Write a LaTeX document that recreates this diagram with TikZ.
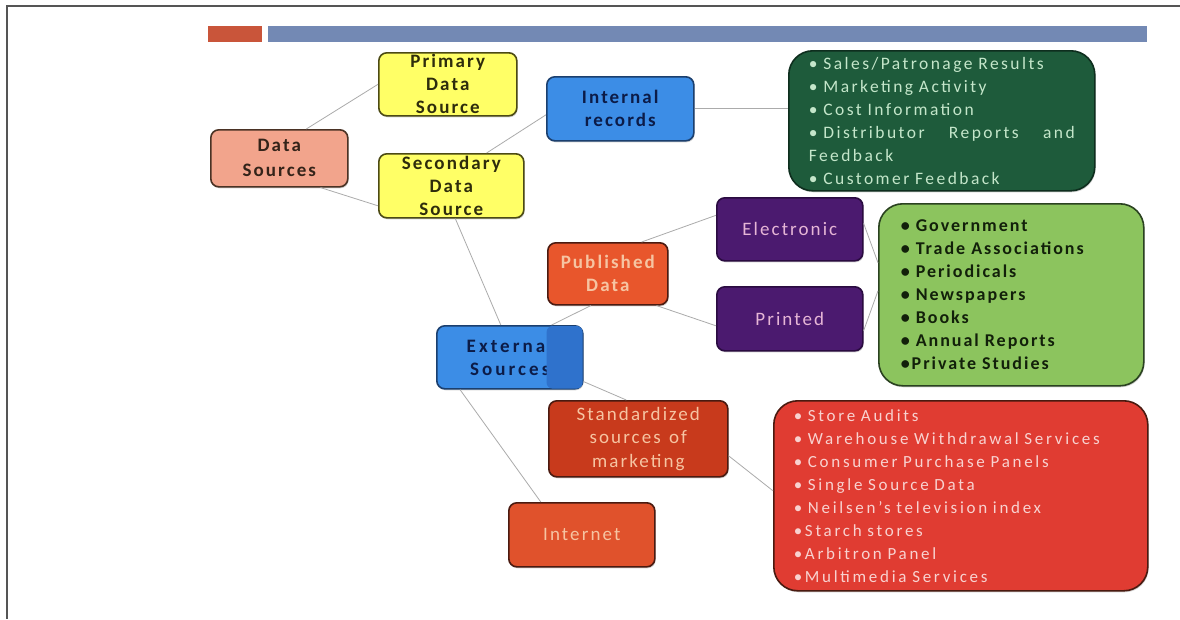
\documentclass[tikz,border=0pt]{standalone}
\usepackage{fontspec}
\setmainfont{Carlito}
\newfontfamily\nodefont[LetterSpace=11]{Carlito}
\newfontfamily\extfont[LetterSpace=16]{Carlito}
\newfontfamily\dglist[LetterSpace=14,WordSpace=1.4]{Carlito}
\newfontfamily\lglist[LetterSpace=11,WordSpace=1.3]{Carlito}
\newfontfamily\redlist[LetterSpace=16,WordSpace=1.3]{Carlito}
\usetikzlibrary{calc,shadows}

\definecolor{barorange}{HTML}{C9553A}
\definecolor{barblue}{HTML}{7389B4}
\definecolor{salmon}{HTML}{F2A48C}
\definecolor{salmonline}{HTML}{4A3224}
\definecolor{yel}{HTML}{FFFF66}
\definecolor{yelline}{HTML}{4C4A14}
\definecolor{bluebox}{HTML}{3C8DE6}
\definecolor{blueshade}{HTML}{2F72CC}
\definecolor{blueline}{HTML}{1B3F6E}
\definecolor{bluetext}{HTML}{0C1C48}
\definecolor{dgreen}{HTML}{1E5B3B}
\definecolor{dgreenline}{HTML}{0E2E1E}
\definecolor{dgreentext}{HTML}{C4E6CA}
\definecolor{purp}{HTML}{4B1A6F}
\definecolor{purpline}{HTML}{2A0B40}
\definecolor{purptext}{HTML}{E6B6D6}
\definecolor{pubred}{HTML}{E8562C}
\definecolor{stdred}{HTML}{C83A1C}
\definecolor{netred}{HTML}{E0522C}
\definecolor{redline}{HTML}{4A1A10}
\definecolor{peach}{HTML}{F6C4A2}
\definecolor{lgreen}{HTML}{8CC45E}
\definecolor{lgreenline}{HTML}{2A4220}
\definecolor{lgreentext}{HTML}{12200A}
\definecolor{bigred}{HTML}{E03C32}
\definecolor{bigredtext}{HTML}{F8D2D0}
\definecolor{link}{HTML}{ABABAB}
\definecolor{frame}{HTML}{555555}

\tikzset{
  box/.style={draw, rounded corners=8pt, line width=1.6pt, align=center,
    inner sep=0pt, anchor=north west,
    drop shadow={shadow xshift=0.8pt, shadow yshift=-1.5pt, opacity=0.35}},
  bigbox/.style={box, rounded corners=24pt, align=left},
  boldtext/.style={font=\nodefont\bfseries\fontsize{19}{23}\selectfont},
  plaintext/.style={font=\nodefont\fontsize{19}{23.5}\selectfont},
  link/.style={draw=link, line width=0.8pt},
}

\begin{document}
\begin{tikzpicture}[x=1pt, y=-1pt]
  \useasboundingbox (0,0) rectangle (1180,619);
  \fill[white] (0,0) rectangle (1180,619);

  % page frame and title bars
  \draw[frame, line width=1.4pt] (1180,6) -- (7,6) -- (7,619);
  \fill[barorange] (208,26) rectangle (262,42);
  \fill[barblue] (268,26) rectangle (1147,42);

  % first level
  \node[box, boldtext, font=\nodefont\bfseries\fontsize{19}{25}\selectfont,
        fill=salmon, draw=salmonline, text=salmonline!70!black,
        minimum width=137pt, minimum height=57pt] (ds) at (210,129) {Data\\Sources};
  \node[box, boldtext, fill=yel, draw=yelline, text=yelline!60!black,
        minimum width=138pt, minimum height=63pt] (prim) at (378,52) {Primary\\Data\\Source};
  \node[box, boldtext, fill=yel, draw=yelline, text=yelline!60!black,
        minimum width=145pt, minimum height=64pt] (sec) at (378,153) {Secondary\\Data\\Source};

  % internal records
  \node[box, boldtext, fill=bluebox, draw=blueline, text=bluetext,
        minimum width=147pt, minimum height=64pt] (int) at (546,76) {Internal\\records};
  \node[bigbox, font=\dglist\fontsize{17.5}{23}\selectfont,
        fill=dgreen, draw=dgreenline, text=dgreentext,
        minimum width=306pt, minimum height=140pt, text width=266pt,
        inner xsep=20pt] (dg) at (788,50)
        {• Sales/Patronage Results\\
         • Marketing Activity\\
         • Cost Information\\
         • Distributor\hfill Reports\hfill and\\
         Feedback\\
         • Customer Feedback};

  % external sources
  \node[box, boldtext, font=\extfont\bfseries\fontsize{19}{23}\selectfont,
        fill=bluebox, draw=blueline, text=bluetext,
        minimum width=146pt, minimum height=63pt] (ext) at (436,325) {External\\Sources};
  \fill[blueshade, rounded corners=6pt] ([xshift=-37pt,yshift=-1pt]ext.north east)
        rectangle ([xshift=-1pt,yshift=1pt]ext.south east);

  \node[box, boldtext, fill=pubred, draw=redline, text=peach,
        minimum width=120pt, minimum height=62pt] (pub) at (547,242) {Published\\Data};
  \node[box, plaintext, fill=purp, draw=purpline, text=purptext,
        minimum width=146pt, minimum height=63pt] (elec) at (716,197) {Electronic};
  \node[box, plaintext, fill=purp, draw=purpline, text=purptext,
        minimum width=146pt, minimum height=64pt] (prt) at (716,286) {Printed};
  \node[bigbox, font=\lglist\bfseries\fontsize{18}{23}\selectfont,
        fill=lgreen, draw=lgreenline, text=lgreentext,
        minimum width=265pt, minimum height=182pt, text width=221pt,
        inner xsep=22pt] (lg) at (878,203)
        {• Government\\
         • Trade Associations\\
         • Periodicals\\
         • Newspapers\\
         • Books\\
         • Annual Reports\\
         •Private Studies};

  \node[box, plaintext, fill=stdred, draw=redline, text=peach,
        minimum width=179pt, minimum height=76pt] (std) at (548,400) {Standardized\\sources of\\marketing};
  \node[box, plaintext, fill=netred, draw=redline, text=peach,
        minimum width=146pt, minimum height=64pt] (net) at (508,502) {Internet};
  \node[bigbox, font=\redlist\fontsize{17}{23}\selectfont,
        fill=bigred, draw=redline, text=bigredtext,
        minimum width=374pt, minimum height=190pt, text width=334pt,
        inner xsep=20pt] (red) at (773,400)
        {• Store Audits\\
         • Warehouse Withdrawal Services\\
         • Consumer Purchase Panels\\
         • Single Source Data\\
         • Neilsen’s television index\\
         •Starch stores\\
         •Arbitron Panel\\
         •Multimedia Services};

  % connectors
  \draw[link] ([xshift=27pt]ds.north) -- (prim.west);
  \draw[link] ([xshift=-28pt]ds.south east) -- ([yshift=-20pt]sec.west);
  \draw[link] ([xshift=-38pt]sec.north east) -- ([yshift=-6pt]int.west);
  \draw[link] (int.east) -- (int.east -| dg.west);
  \draw[link] ([xshift=4pt]sec.south) -- ([xshift=-9pt]ext.north);
  \draw[link] ([xshift=-32pt]ext.north east) -- ([xshift=-17pt]pub.south);
  \draw[link] ([xshift=-27pt]pub.north east) -- ([yshift=14pt]elec.west);
  \draw[link] ([xshift=-12pt]pub.south east) -- ([yshift=-7pt]prt.west);
  \draw[link] ([yshift=6pt]elec.east) -- ([yshift=32pt]lg.west);
  \draw[link] ([yshift=-12pt]prt.east) -- ([yshift=4pt]lg.west);
  \draw[link] ([yshift=8pt]ext.south east) -- ([xshift=-12pt]std.north);
  \draw[link] ([xshift=24pt]ext.south west) -- ([xshift=-41pt]net.north);
  \draw[link] ([yshift=-17pt]std.east) -- ([yshift=5pt]red.west);
\end{tikzpicture}
\end{document}
